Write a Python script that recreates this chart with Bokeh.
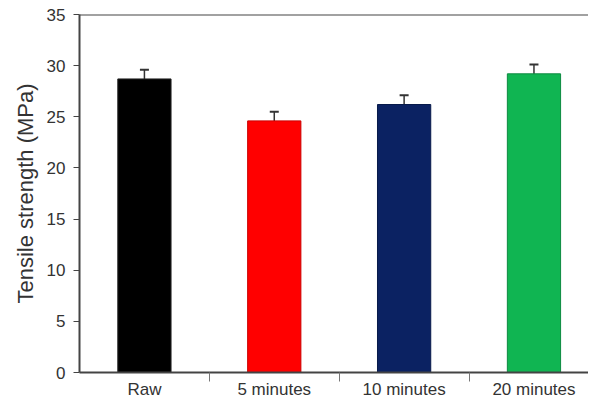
from bokeh.plotting import figure
from bokeh.models import (ColumnDataSource, FixedTicker, Range1d, Span, Whisker,
                          TeeHead, LinearAxis)
from bokeh.embed import file_html
from bokeh.resources import INLINE

categories = ["Raw", "5 minutes", "10 minutes", "20 minutes"]
strength = [28.7, 24.6, 26.2, 29.2]
error = [0.9, 0.9, 0.9, 0.9]
colors = ["#000000", "#ff0000", "#0b2262", "#10b552"]
edge_colors = ["#222222", "#cc0000", "#071a4a", "#0c8a40"]
y_ticks = [0, 5, 10, 15, 20, 25, 30, 35]

xpos = [i + 0.5 for i in range(len(categories))]
src = ColumnDataSource(dict(
    x=xpos, top=strength, color=colors, edge=edge_colors,
    upper=[s + e for s, e in zip(strength, error)],
    lower=[s - e for s, e in zip(strength, error)],
))

FONT = "Liberation Sans"
TXT = "#333333"

p = figure(width=588, height=401, output_backend="svg", toolbar_location=None,
           x_range=Range1d(0, 3.92), y_range=Range1d(0, 35),
           min_border_left=79, min_border_top=14, min_border_right=0,
           min_border_bottom=26, x_axis_type=None)
p.outline_line_color = None
p.grid.visible = False
p.background_fill_color = "white"
p.border_fill_color = "white"

p.vbar(x="x", top="top", width=0.41, source=src, fill_color="color",
       line_color="edge", line_width=1)

w = Whisker(base="x", upper="upper", lower="lower", source=src,
            line_color="#333333", line_width=1.5,
            upper_head=TeeHead(size=9, line_color="#333333", line_width=2),
            lower_head=None)
p.add_layout(w)

p.add_layout(Span(location=35, dimension="width", line_color="#444444",
                  line_width=2))

xa = LinearAxis(ticker=FixedTicker(ticks=xpos, minor_ticks=[1, 2, 3]),
                major_label_overrides={x: c for x, c in zip(xpos, categories)})
xa.major_tick_out = 0
xa.major_tick_in = 0
xa.minor_tick_out = 9
xa.minor_tick_in = 0
xa.minor_tick_line_color = "#777777"
xa.axis_line_color = "#444444"
xa.axis_line_width = 2
xa.major_label_standoff = -2
xa.major_label_text_font = FONT
xa.major_label_text_font_size = "17px"
xa.major_label_text_color = TXT
p.add_layout(xa, "below")

ya = p.yaxis[0]
ya.ticker = FixedTicker(ticks=y_ticks, minor_ticks=[])
ya.axis_label = "Tensile strength (MPa)"
ya.axis_label_text_font = FONT
ya.axis_label_text_font_size = "22px"
ya.axis_label_text_font_style = "normal"
ya.axis_label_text_color = TXT
ya.axis_label_standoff = 6
ya.major_label_text_font = FONT
ya.major_label_text_font_size = "17px"
ya.major_label_text_color = TXT
ya.major_label_standoff = 8
ya.major_tick_out = 6
ya.major_tick_in = 0
ya.major_tick_line_color = "#444444"
ya.axis_line_color = "#444444"
ya.axis_line_width = 2

open("out.html", "w").write(file_html(p, INLINE))
